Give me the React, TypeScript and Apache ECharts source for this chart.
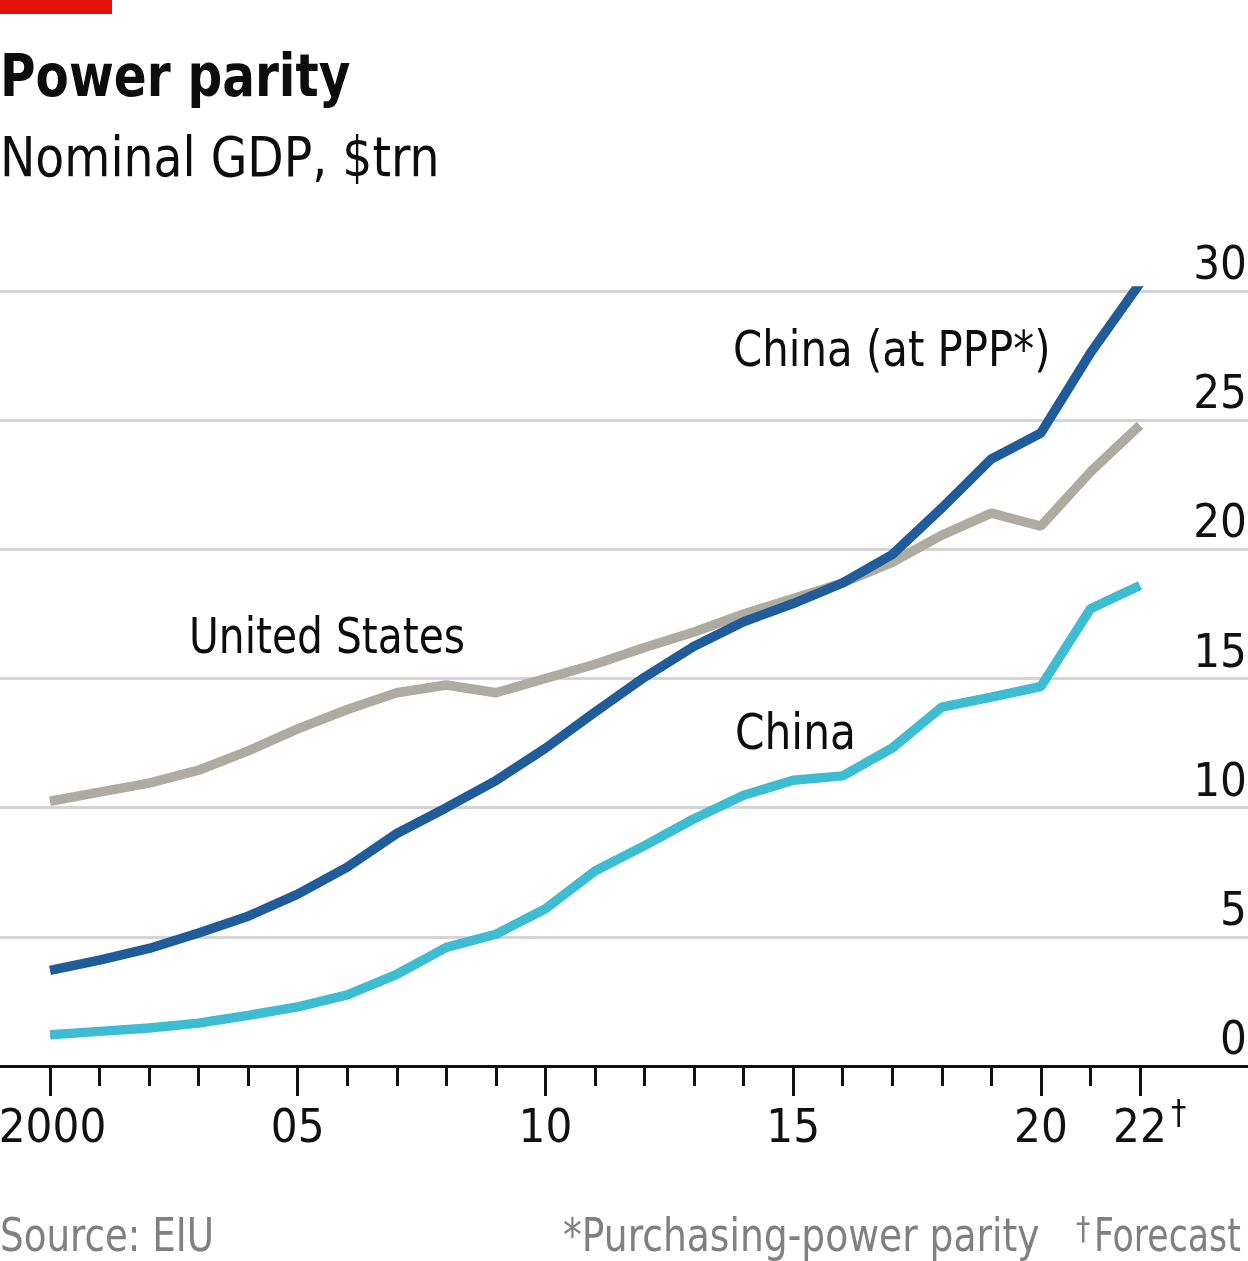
import React, { useEffect, useRef } from "react";
import * as echarts from "echarts";

const years = [2000, 2001, 2002, 2003, 2004, 2005, 2006, 2007, 2008, 2009, 2010, 2011, 2012, 2013, 2014, 2015, 2016, 2017, 2018, 2019, 2020, 2021, 2022];
const unitedStates = [10.25, 10.6, 10.95, 11.45, 12.2, 13.05, 13.8, 14.45, 14.75, 14.45, 15.0, 15.55, 16.2, 16.8, 17.5, 18.1, 18.7, 19.5, 20.55, 21.4, 20.9, 23.0, 24.8];
const chinaPPP = [3.7, 4.1, 4.55, 5.15, 5.8, 6.65, 7.7, 9.0, 10.0, 11.05, 12.3, 13.7, 15.05, 16.25, 17.2, 17.9, 18.7, 19.8, 21.6, 23.5, 24.5, 27.6, 30.3];
const chinaNominal = [1.21, 1.34, 1.47, 1.66, 1.96, 2.29, 2.75, 3.55, 4.59, 5.1, 6.09, 7.55, 8.53, 9.57, 10.48, 11.06, 11.23, 12.31, 13.89, 14.28, 14.69, 17.7, 18.6];
const majorYears = [2000, 2005, 2010, 2015, 2020, 2022];
const yTicks = [0, 5, 10, 15, 20, 25, 30];

const FONT = '"DejaVu Sans Condensed", "DejaVu Sans", sans-serif';

export default function App() {
  const ref = useRef<HTMLDivElement>(null);
  useEffect(() => {
    if (!ref.current) return;
    const chart = echarts.init(ref.current, undefined, { renderer: "svg" });
    const W = 1248;
    const xLeft = 50;
    const xRight = 1140;
    const perYear = (xRight - xLeft) / (2022 - 2000);
    const xMin = 2000 - xLeft / perYear;
    const xMax = 2022 + (W - xRight) / perYear;
    const minorYears = years.filter((y) => majorYears.indexOf(y) < 0);
    const pair = (arr: number[]) => years.map((y, i) => [y, arr[i]]);

    const txt = (text: string, x: number, y: number, size: number, sx: number, fill = "#0d0d0d", weight = "normal") => ({
      type: "text",
      x,
      y,
      scaleX: sx,
      style: { text, font: `${weight} ${size}px ${FONT}`, fill, verticalAlign: "middle", textVerticalAlign: "middle" },
    });

    chart.setOption({
      animation: false,
      grid: { left: 0, right: 0, top: 291, bottom: 195, containLabel: false, outerBoundsMode: "none" },
      xAxis: [
        {
          type: "value",
          min: xMin,
          max: xMax,
          position: "bottom",
          axisLine: { show: true, onZero: false, lineStyle: { color: "#111", width: 3 } },
          axisTick: { show: true, length: 30, customValues: majorYears, lineStyle: { color: "#111", width: 3 } },
          axisLabel: {
            show: true,
            customValues: majorYears,
            margin: 36,
            fontFamily: FONT,
            fontSize: 47,
            color: "#111",
            formatter: (v: number) => (v === 2000 ? "{f|2000}" : String(v).slice(2)),
            rich: { f: { fontFamily: FONT, fontSize: 47, color: "#111", padding: [0, 0, 0, 5] } },
          },
          splitLine: { show: false },
        },
        {
          type: "value",
          min: xMin,
          max: xMax,
          position: "bottom",
          axisLine: { show: false },
          axisTick: { show: true, length: 20, customValues: minorYears, lineStyle: { color: "#111", width: 3 } },
          axisLabel: { show: false },
          splitLine: { show: false },
        },
      ],
      yAxis: {
        type: "value",
        min: 0,
        max: 30,
        interval: 5,
        position: "right",
        axisLine: { show: false },
        axisTick: { show: false },
        axisLabel: {
          show: true,
          align: "right",
          verticalAlign: "bottom",
          margin: -1,
          fontFamily: FONT,
          fontSize: 47,
          lineHeight: 47,
          padding: [0, 0, 5, 0],
          color: "#111",
          formatter: (v: number) => (yTicks.indexOf(v) >= 0 ? String(v) : ""),
        },
        splitLine: { show: true, lineStyle: { color: "#d4d4d4", width: 3 } },
      },
      series: [
        {
          name: "United States",
          type: "line",
          data: pair(unitedStates),
          showSymbol: false,
          symbol: "none",
          lineStyle: { color: "#aeaba1", width: 9.5 },
          z: 3,
        },
        {
          name: "China (at PPP*)",
          type: "line",
          data: pair(chinaPPP),
          showSymbol: false,
          symbol: "none",
          lineStyle: { color: "#1f5c99", width: 9.5 },
          z: 4,
        },
        {
          name: "China",
          type: "line",
          data: pair(chinaNominal),
          showSymbol: false,
          symbol: "none",
          lineStyle: { color: "#3ebcd2", width: 9.5 },
          z: 4,
        },
      ],
      graphic: [
        { type: "rect", left: 0, top: 0, shape: { width: 112, height: 14 }, style: { fill: "#e3120b" } },
        txt("Power parity", 0, 76, 58, 0.93, "#0d0d0d", "bold"),
        txt("Nominal GDP, $trn", 0, 157, 55, 0.956),
        txt("China (at PPP*)", 733, 349, 49, 0.95),
        txt("United States", 189, 636, 49, 0.925),
        txt("China", 735, 732, 49, 0.96),
        txt("†", 1171, 1112, 34, 1, "#111"),
        txt("Source: EIU", 0, 1235, 46, 0.9, "#808080"),
        txt("*Purchasing-power parity", 563, 1235, 46, 0.91, "#808080"),
        txt("†", 1076, 1228, 32, 1, "#808080"),
        txt("Forecast", 1094, 1235, 46, 0.84, "#808080"),
      ],
    });
    return () => chart.dispose();
  }, []);
  return <div ref={ref} style={{ position: "fixed", left: 0, top: 0, width: 1248, height: 1261 }} />;
}
